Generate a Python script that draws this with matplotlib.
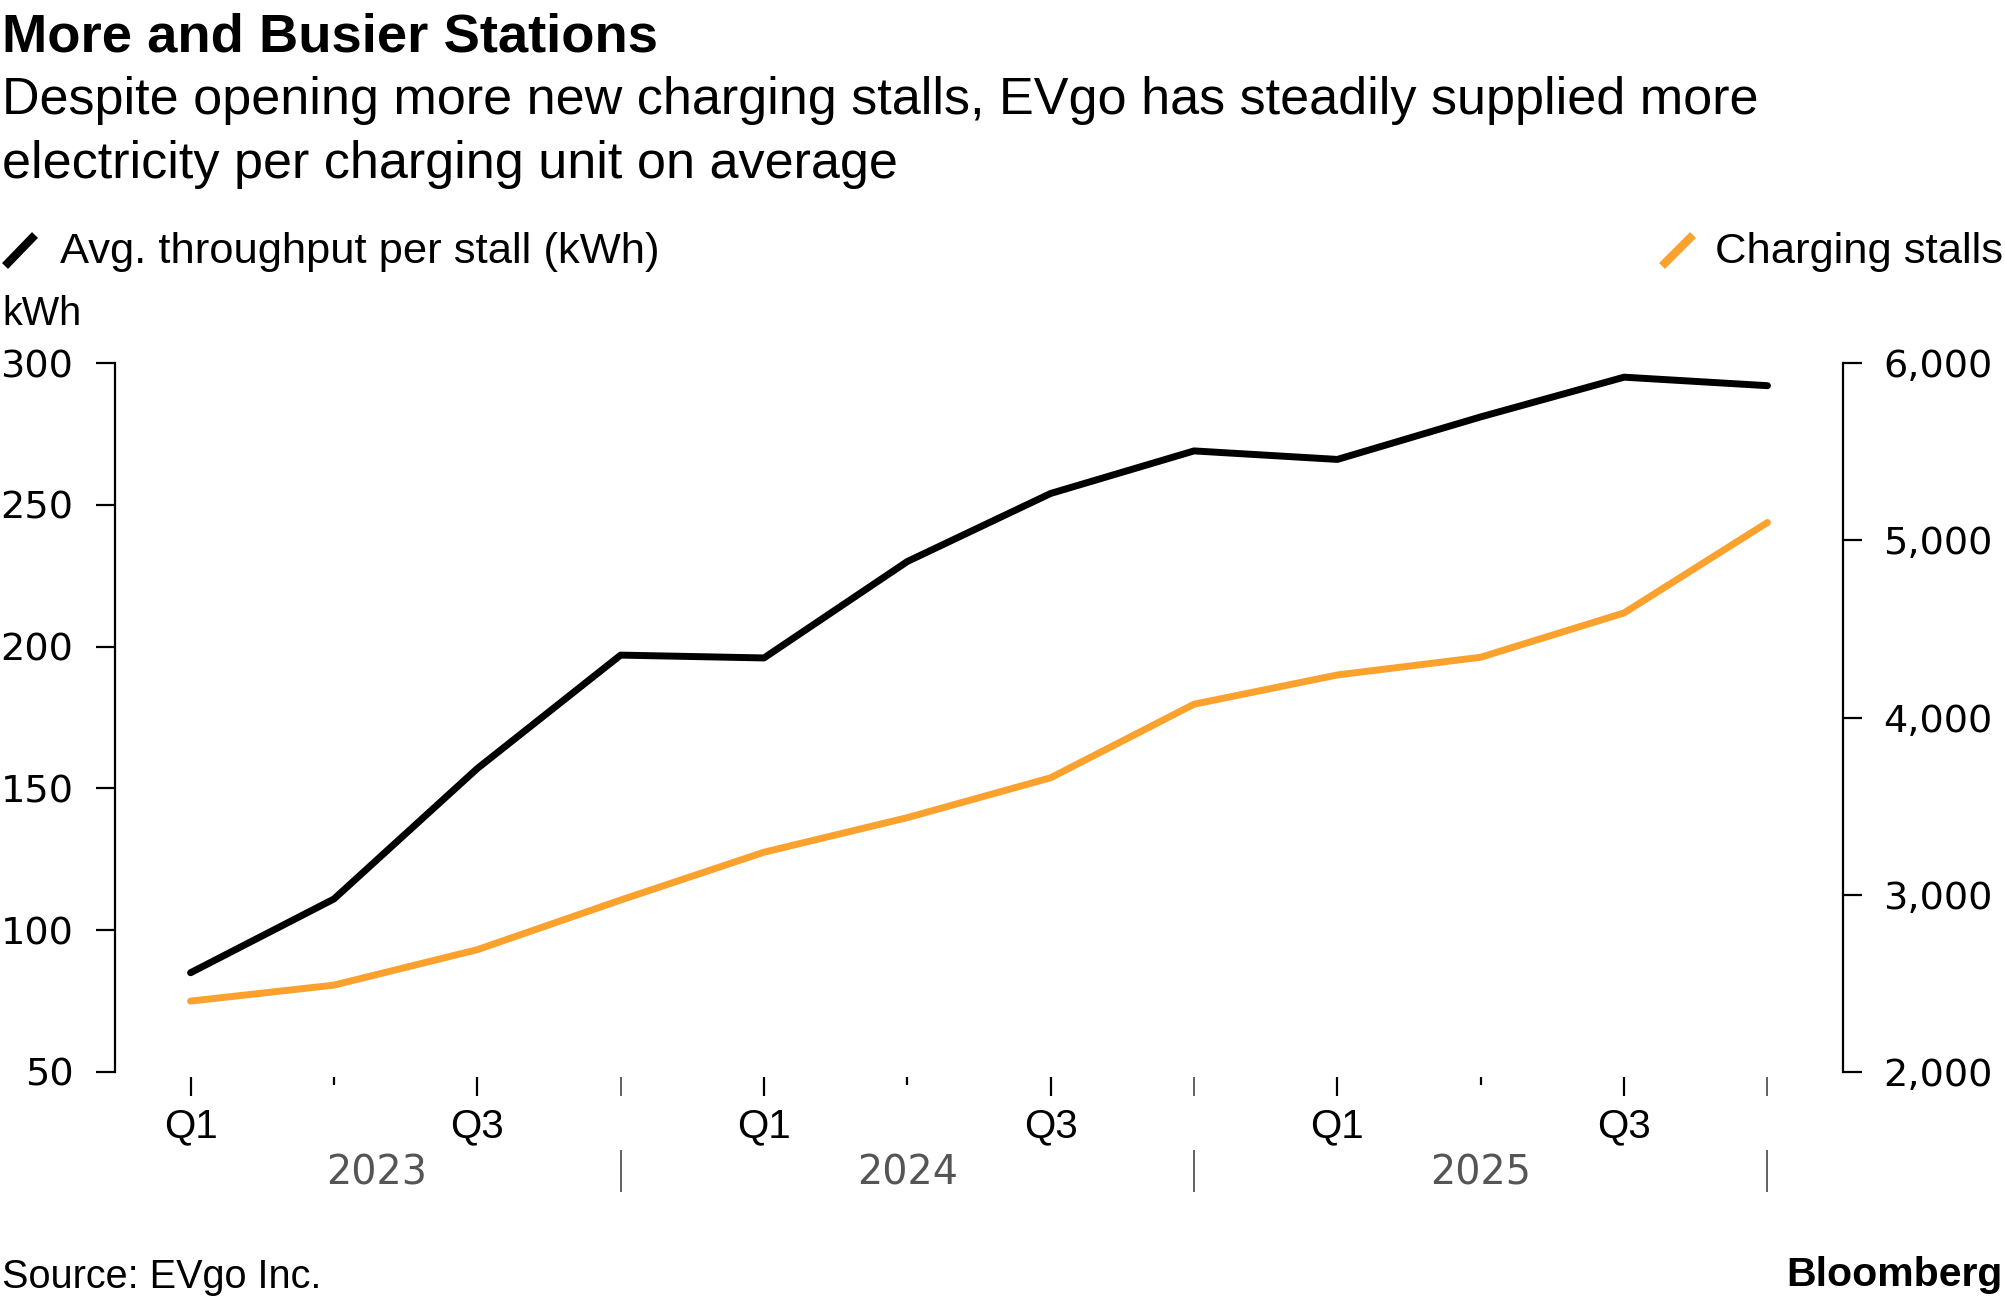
import matplotlib
matplotlib.use("Agg")
import matplotlib.pyplot as plt
from matplotlib.lines import Line2D

plt.rcParams['font.family'] = ['Liberation Sans', 'DejaVu Sans']

# data
quarters = ['Q1', 'Q2', 'Q3', 'Q4'] * 3
years = ['2023', '2024', '2025']
throughput_kwh = [85, 111, 157, 197, 196, 230, 254, 269, 266, 281, 295, 292]
charging_stalls = [2400, 2490, 2690, 2970, 3240, 3435, 3660, 4075, 4240, 4340, 4590, 5100]

BLACK = '#000000'
ORANGE = '#fba22e'
GRAY = '#555555'

W, H = 2005, 1302
fig = plt.figure(figsize=(W / 100, H / 100), dpi=100)


def fy(px):
    # figure fraction from a pixel row counted from the top
    return 1 - px / H


ax = fig.add_axes([115 / W, fy(1072), (1843 - 115) / W, (1072 - 363) / H])
ax2 = ax.twinx()

x = list(range(len(quarters)))
ax.plot(x, throughput_kwh, color=BLACK, lw=5, solid_capstyle='round', zorder=3)
ax2.plot(x, charging_stalls, color=ORANGE, lw=5, solid_capstyle='round',
         solid_joinstyle='round', zorder=2)

ax.set_xlim(-0.527, len(x) - 1 + 0.527)
ax.set_ylim(50, 300)
ax2.set_ylim(2000, 6000)
ax.set_yticks([50, 100, 150, 200, 250, 300])
ax2.set_yticks([2000, 3000, 4000, 5000, 6000])
ax2.set_yticklabels([f'{v:,}' for v in [2000, 3000, 4000, 5000, 6000]])

for a in (ax, ax2):
    for s in a.spines.values():
        s.set_visible(False)
    a.spines['bottom'].set_position(('outward', 3.6))
ax.spines['left'].set_visible(True)
ax2.spines['right'].set_visible(True)
ax.spines['left'].set_linewidth(1.6)
ax2.spines['right'].set_linewidth(1.6)

ax.tick_params(axis='y', length=14, width=1.6, pad=16, labelsize=27.5)
ax2.tick_params(axis='y', length=14, width=1.6, pad=15, labelsize=27.5)
for lab in ax.get_yticklabels() + ax2.get_yticklabels():
    lab.set_fontfamily('DejaVu Sans')

# quarter ticks: Q1/Q3 labelled, Q2 short, Q4 drawn separately in gray
ax.set_xticks([i for i in x if quarters[i] in ('Q1', 'Q3')])
ax.set_xticklabels([quarters[i] for i in x if quarters[i] in ('Q1', 'Q3')])
ax.set_xticks([i for i in x if quarters[i] == 'Q2'], minor=True)
ax.tick_params(axis='x', which='major', length=13.5, width=1.6, pad=8, labelsize=29)
ax.tick_params(axis='x', which='minor', length=6, width=1.6)
ax2.tick_params(axis='x', which='both', bottom=False, labelbottom=False)

q4 = [i for i in x if quarters[i] == 'Q4']
ax.vlines(q4, -0.0071, -0.034, transform=ax.get_xaxis_transform(),
          color=GRAY, lw=1.3, clip_on=False)
ax.vlines(q4, -0.110, -0.169, transform=ax.get_xaxis_transform(),
          color=GRAY, lw=1.3, clip_on=False)
for xpos, yr in zip([1.3, 5, 9], years):
    ax.text(xpos, -0.143, yr, transform=ax.get_xaxis_transform(),
            ha='center', va='center', fontsize=28.5, color=GRAY,
            family=['DejaVu Sans'])

# titles and annotations
fig.text(0.001, fy(51), 'More and Busier Stations', fontsize=39.2, fontweight='bold',
         va='baseline')
fig.text(0.001, fy(114), 'Despite opening more new charging stalls, EVgo has steadily supplied more',
         fontsize=37.5, va='baseline')
fig.text(0.001, fy(178), 'electricity per charging unit on average', fontsize=37.5, va='baseline')

fig.add_artist(Line2D([5 / W, 35 / W], [fy(266), fy(235)], color=BLACK, lw=6,
                      solid_capstyle='butt'))
fig.text(60 / W, fy(263), 'Avg. throughput per stall (kWh)', fontsize=31.3, va='baseline')
fig.add_artist(Line2D([1662 / W, 1693 / W], [fy(266), fy(235)], color=ORANGE, lw=6,
                      solid_capstyle='butt'))
fig.text(0.999, fy(263), 'Charging stalls', fontsize=31.3, va='baseline', ha='right')

fig.text(0.001, fy(325), 'kWh', fontsize=28.5, va='baseline')
fig.text(0.001, fy(1288), 'Source: EVgo Inc.', fontsize=28.5, va='baseline')
fig.text(0.999, fy(1286), 'Bloomberg', fontsize=29.5, fontweight='bold', va='baseline', ha='right')

fig.savefig('out.png', dpi=100, facecolor='white')
